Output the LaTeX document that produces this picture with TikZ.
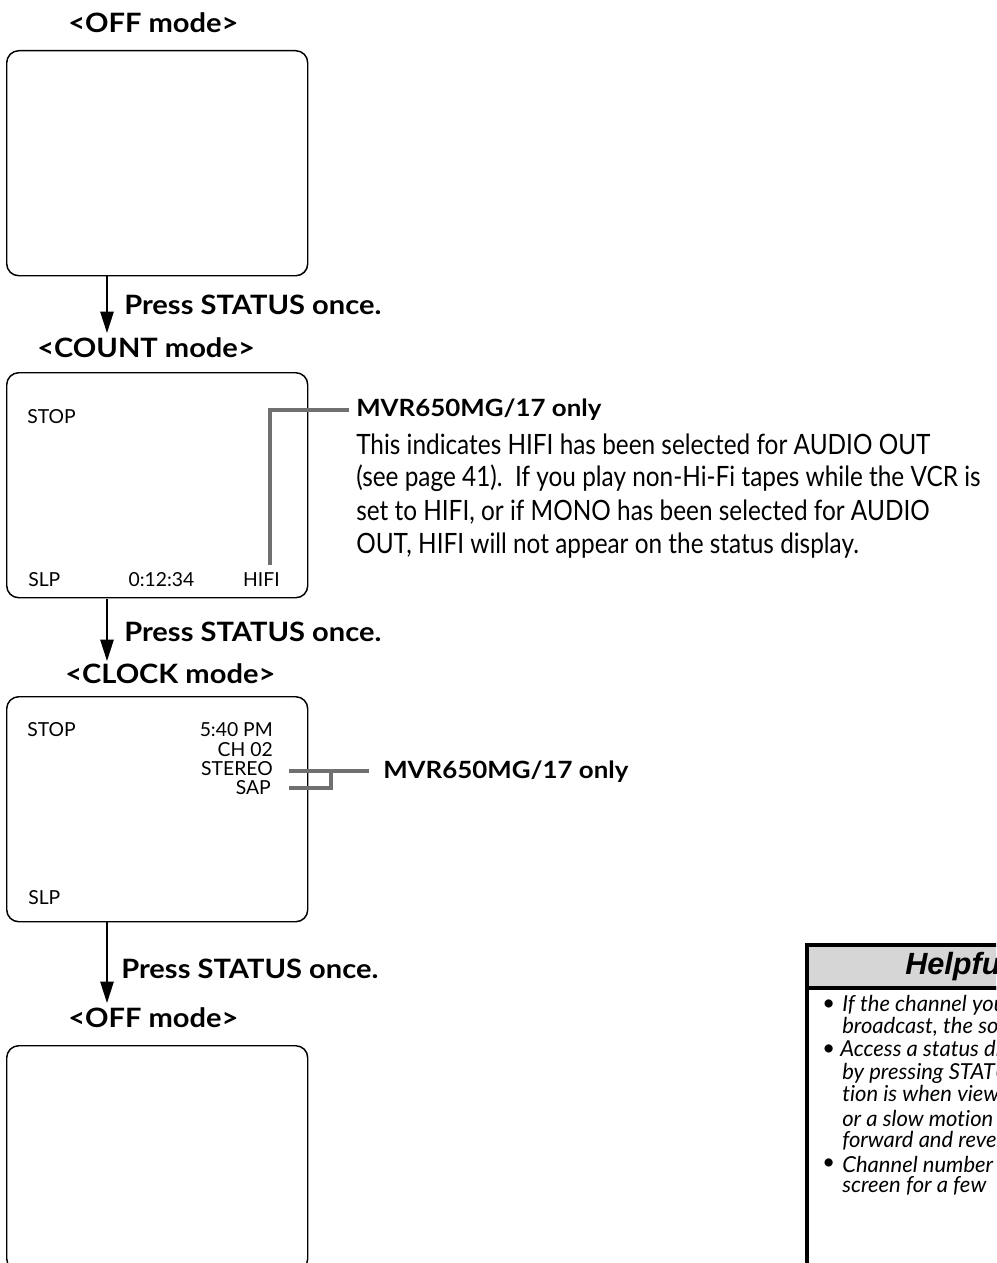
\documentclass[tikz,border=0pt]{standalone}
\usepackage{fontspec}
\setmainfont{Lato}
\newfontfamily\labelfont[FakeStretch=1.09]{Lato}
\newfontfamily\condfont[FakeStretch=0.87]{Lato}
\newfontfamily\hintitfont[Ligatures=NoCommon]{Lato}
\newfontfamily\hintsfont{Liberation Sans}
\usetikzlibrary{arrows.meta}
\begin{document}
\begin{tikzpicture}[x=0.75pt,y=-0.75pt,
  screen/.style={draw=black, line width=1.1pt, rounded corners=9pt, minimum width=225.75pt, minimum height=168.75pt, anchor=north west, inner sep=0pt},
  modelbl/.style={anchor=west, inner sep=0pt, font=\labelfont\fontsize{20pt}{24pt}\selectfont\bfseries},
  presslbl/.style={anchor=west, inner sep=0pt, font=\labelfont\fontsize{20pt}{24pt}\selectfont\bfseries},
  scrtxt/.style={inner sep=0pt, font=\fontsize{14.5pt}{17pt}\selectfont},
  flow/.style={line width=1.2pt, -{Triangle[length=16pt,width=10pt]}},
  callout/.style={draw=black!56, line width=2.5pt},
  desc/.style={anchor=west, inner sep=0pt, font=\condfont\fontsize{21pt}{24pt}\selectfont},
  desctitle/.style={anchor=west, inner sep=0pt, font=\labelfont\fontsize{17.8pt}{21pt}\selectfont\bfseries},
  hintbox/.style={draw=black, line width=2.5pt},
  hinttxt/.style={anchor=west, inner sep=0pt, font=\hintitfont\fontsize{16.5pt}{19pt}\selectfont\itshape}
]
\useasboundingbox (0,0) rectangle (996,1263);
\clip (0,0) rectangle (996,1263);

% ---------- OFF mode ----------
\node[modelbl] (m1) at (68,23) {<OFF mode>};
\node[screen] (s1) at (6,50) {};
\coordinate (t1) at (107,333);
\draw[flow] (107,275) -- (t1);
\node[presslbl] (p1) at (124,305) {Press STATUS once.};

% ---------- COUNT mode ----------
\node[modelbl] (m2) at (37,348) {<COUNT mode>};
\node[screen] (s2) at (6,372) {};
\node[scrtxt, anchor=west] (c-stop) at (27,417) {STOP};
\node[scrtxt, anchor=west] (c-slp) at (28,580) {SLP};
\node[scrtxt] (c-cnt) at (161.5,580) {0:12:34};
\node[scrtxt, anchor=east] (c-hifi) at (280,580) {HIFI};
\coordinate (h-bot) at (270,565);
\coordinate (h-end) at (349,410);
\draw[callout] (h-bot) -- (270,410) -- (h-end);
\node[desctitle] (d0) at (356,410) {MVR650MG/17 only};
\node[desc] (d1) at (356,444) {This indicates HIFI has been selected for AUDIO OUT};
\node[desc] (d2) at (356,478) {(see page 41).\ \ If you play non-Hi-Fi tapes while the VCR is};
\node[desc] (d3) at (356,512) {set to HIFI, or if MONO has been selected for AUDIO};
\node[desc] (d4) at (356,546) {OUT, HIFI will not appear on the status display.};

\coordinate (t2) at (107,661);
\draw[flow] (107,599) -- (t2);
\node[presslbl] (p2) at (124,632) {Press STATUS once.};

% ---------- CLOCK mode ----------
\node[modelbl] (m3) at (65,674) {<CLOCK mode>};
\node[screen] (s3) at (6,696) {};
\node[scrtxt, anchor=west] (k-stop) at (27,730) {STOP};
\node[scrtxt, anchor=east] (k-time) at (273,730) {5:40 PM};
\node[scrtxt, anchor=east] (k-ch) at (273,750) {CH 02};
\node[scrtxt, anchor=east] (k-st) at (273,769) {STEREO};
\node[scrtxt, anchor=east] (k-sap) at (271,788) {SAP};
\node[scrtxt, anchor=west] (k-slp) at (28,898) {SLP};
\coordinate (k1) at (289,771);
\coordinate (k2) at (289,788);
\coordinate (k-end) at (369,771);
\draw[callout] (k1) -- (k-end);
\draw[callout] (k2) -- (331,788) -- (331,770);
\node[desctitle] (d5) at (383,772) {MVR650MG/17 only};

\coordinate (t3) at (107,1003);
\draw[flow] (107,922) -- (t3);
\node[presslbl] (p3) at (121,969) {Press STATUS once.};

% ---------- OFF mode ----------
\node[modelbl] (m4) at (68,1018) {<OFF mode>};
\node[screen] (s4) at (6,1045) {};

% ---------- Helpful hints ----------
\draw[hintbox, fill=black!16] (807,945) rectangle (1010,988);
\draw[hintbox] (807,988) rectangle (1010,1300);
\node[anchor=west, inner sep=0pt, font=\hintsfont\fontsize{23pt}{26pt}\selectfont\bfseries\itshape] (hh) at (905,967) {Helpful Hints};
\node[hinttxt] (b1) at (822,1005) {\textbullet};
\node[hinttxt] (h1) at (842,1005) {If the channel you};
\node[hinttxt] (h2) at (842,1027) {broadcast, the sound};
\node[hinttxt] (b2) at (822,1050) {\textbullet};
\node[hinttxt] (h3) at (840,1050) {Access a status display};
\node[hinttxt] (h4) at (842,1073) {by pressing STATUS};
\node[hinttxt] (h5) at (842,1095) {tion is when viewing};
\node[hinttxt] (h6) at (842,1118) {or a slow motion};
\node[hinttxt] (h7) at (842,1141) {forward and reverse};
\node[hinttxt] (b3) at (822,1164) {\textbullet};
\node[hinttxt] (h8) at (842,1164) {Channel number};
\node[hinttxt] (h9) at (842,1186) {screen for a few};
\end{tikzpicture}
\end{document}
